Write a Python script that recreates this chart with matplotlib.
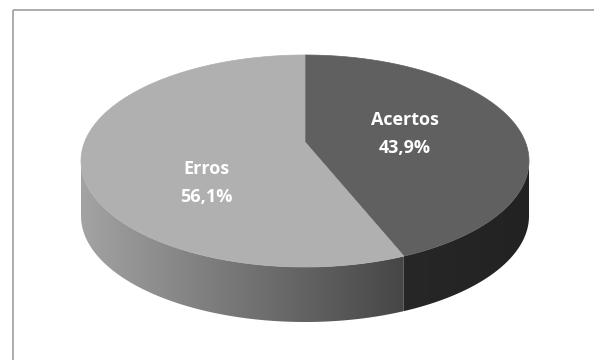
import numpy as np
import matplotlib.pyplot as plt
from matplotlib.colors import LinearSegmentedColormap
from matplotlib.patches import Polygon, Rectangle

labels = ['Acertos', 'Erros']
values = [43.9, 56.1]
top_colors = ['#606060', '#b0b0b0']
side_colors = [('#272727', '#222222'), ('#a3a3a3', '#464646')]

# layout in pixel units (y grows downwards)
cx = 305
y_far, y_mid, y_near = 55, 142, 267   # far edge, projected centre, near edge
rx = 224
h = 55

# perspective mapping of the unit circle onto the drawn ellipse:
# (y_mid - q)/(1 - c) = y_far, (y_mid + q)/(1 + c) = y_near
c = (2 * y_mid - y_far - y_near) / (y_near - y_far)
q = y_mid - y_far + y_far * c
k = rx * np.sqrt(1 - c * c)


def pt(a, dy=0):
    # a: degrees clockwise from 12 o'clock
    a = np.radians(a)
    x, y = np.sin(a), -np.cos(a)
    w = 1 + c * y
    return cx + k * x / w, (y_mid + q * y) / w + dy


fig = plt.figure(figsize=(5.94, 3.60), dpi=100)
ax = fig.add_axes([0, 0, 1, 1])
ax.axis('off')

ax.add_patch(Rectangle((13, 10), 700, 500, fill=False, ec='#a6a6a6', lw=1.3))

fracs = np.array(values) / sum(values)
starts = 360 * np.concatenate([[0], np.cumsum(fracs)[:-1]])
ends = starts + 360 * fracs

# visible front side lies between the two silhouette points
a_right = np.degrees(np.arccos(c))
a_left = 360 - a_right

for i in range(len(values)):
    lo, hi = max(starts[i], a_right), min(ends[i], a_left)
    if hi <= lo:
        continue
    ts = np.linspace(lo, hi, 200)
    poly = [pt(t) for t in ts] + [pt(t, h) for t in ts[::-1]]
    patch = Polygon(poly, closed=True, fc='none', ec='none')
    ax.add_patch(patch)
    xs = [p[0] for p in poly]
    ys = [p[1] for p in poly]
    cmap = LinearSegmentedColormap.from_list('side%d' % i, side_colors[i][::-1])
    grad = np.linspace(0, 1, 256)[None, :]
    im = ax.imshow(grad, cmap=cmap, aspect='auto', interpolation='bilinear',
                   extent=(max(xs), min(xs), max(ys) + 1, min(ys) - 1), zorder=1)
    im.set_clip_path(patch)

for i in range(len(values)):
    ts = np.linspace(starts[i], ends[i], 300)
    pts = [(cx, y_mid)] + [pt(t) for t in ts]
    ax.add_patch(Polygon(pts, closed=True, fc=top_colors[i], ec=top_colors[i],
                         lw=0.5, zorder=2))

ax.set_xlim(0, 594)
ax.set_ylim(360, 0)

label_pos = [(405, 120), (206, 169)]
for i in range(len(values)):
    lx, ly = label_pos[i]
    pct = ('%.1f' % values[i]).replace('.', ',') + '%'
    for j, s in enumerate([labels[i], pct]):
        ax.text(lx, ly + 28 * j, s, ha='center', va='center', color='white',
                fontsize=13, fontweight='bold', family='Open Sans', zorder=3)

fig.savefig('out.png', dpi=100)
